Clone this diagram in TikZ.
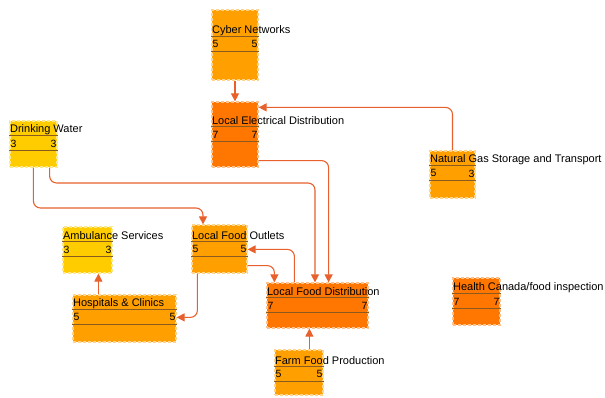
\documentclass[tikz,border=0pt]{standalone}
\usepackage{fontspec}
\setmainfont{Liberation Sans}
\usetikzlibrary{arrows.meta, positioning, fit}
\definecolor{sunyellow}{HTML}{FFCC00}
\definecolor{amber}{HTML}{FFA000}
\definecolor{deeporange}{HTML}{FF7700}
\definecolor{rowcol}{HTML}{8B5A1E}
\definecolor{linkcol}{HTML}{E8602C}
\tikzset{
    sectorbox/.style={rectangle, inner sep=0pt, fill=#1, draw=#1!45!white, line width=1.2pt, dash pattern=on 3pt off 2pt},
    sectortitle/.style={inner sep=0.5pt, anchor=west, font=\fontsize{11}{13}\selectfont},
    sectornum/.style={inner sep=1pt, font=\fontsize{10.5}{12}\selectfont},
    rowline/.style={draw=rowcol, line width=0.9pt},
    link/.style={draw=linkcol, line width=1.1pt, rounded corners=7pt, -{Triangle[length=8pt, width=8pt]}}
}
% name, top left, bottom right, title offset, colour, title, in, out
\newcommand{\infrabox}[8]{%
    \node[sectorbox=#5, fit={#2 #3}] (#1) {};
    \node[sectortitle] (#1-title) at ([yshift={-#4*1pt}]#1.north west) {#6};
    \draw[rowline] ([yshift={-(#4+6)*1pt}]#1.north west) -- ([yshift={-(#4+6)*1pt}]#1.north east);
    \node[sectornum, anchor=west] (#1-in) at ([yshift={-(#4+14)*1pt}]#1.north west) {#7};
    \node[sectornum, anchor=east] (#1-out) at ([yshift={-(#4+14)*1pt}]#1.north east) {#8};
    \draw[rowline] ([yshift={-(#4+21)*1pt}]#1.north west) -- ([yshift={-(#4+21)*1pt}]#1.north east);
}

\begin{document}
\begin{tikzpicture}[x=1pt, y=-1pt]
    \useasboundingbox (0,0) rectangle (605,398);

    \infrabox{cyber}{(212,10)}{(258,80)}{21}{amber}{Cyber Networks}{5}{5}
    \infrabox{elec}{(212,102)}{(258,167)}{19}{deeporange}{Local Electrical Distribution}{7}{7}
    \infrabox{water}{(10,121)}{(57,167)}{9}{sunyellow}{Drinking Water}{3}{3}
    \infrabox{gas}{(430,151)}{(475,198)}{9}{amber}{Natural Gas Storage and Transport}{5}{3}
    \infrabox{amb}{(63,227)}{(112,273)}{9}{sunyellow}{Ambulance Services}{3}{3}
    \infrabox{outlets}{(192,225)}{(247,273)}{11}{amber}{Local Food Outlets}{5}{5}
    \infrabox{hosp}{(73,295)}{(176,342)}{9}{amber}{Hospitals \& Clinics}{5}{5}
    \infrabox{lfd}{(267,283)}{(368,328)}{9}{deeporange}{Local Food Distribution}{7}{7}
    \infrabox{farm}{(275,350)}{(323,395)}{11}{amber}{Farm Food Production}{5}{5}
    \infrabox{health}{(453,278)}{(500,325)}{10}{deeporange}{Health Canada/food inspection}{7}{7}

    % Dependencies
    \coordinate (dwbend) at (315,183);
    \coordinate (dwbend2) at (203,208);
    \draw[link] (cyber.south) -- (elec.north);
    \draw[link] (gas.north) |- ([yshift=-6pt]elec.north east);
    \draw[link] ([yshift=7pt]elec.south east) -| ([xshift=-40pt]lfd.north east);
    \draw[link] ([xshift=-8pt]water.south east) |- (dwbend) -- (dwbend |- lfd.north);
    \draw[link] ([xshift=24pt]water.south west) |- (dwbend2) -- (dwbend2 |- outlets.north);
    \draw[link] ([yshift=8pt]outlets.south east) -| ([xshift=8pt]lfd.north west);
    \draw[link] ([xshift=28pt]lfd.north west) |- ([yshift=-25pt]outlets.north east);
    \draw[link] ([xshift=6pt]outlets.south west) |- ([yshift=-23pt]hosp.north east);
    \draw[link] ([xshift=26pt]hosp.north west) -- ([xshift=26pt]hosp.north west |- amb.south);
    \draw[link] ([xshift=35pt]farm.north west) -- ([xshift=35pt]farm.north west |- lfd.south);
\end{tikzpicture}
\end{document}
